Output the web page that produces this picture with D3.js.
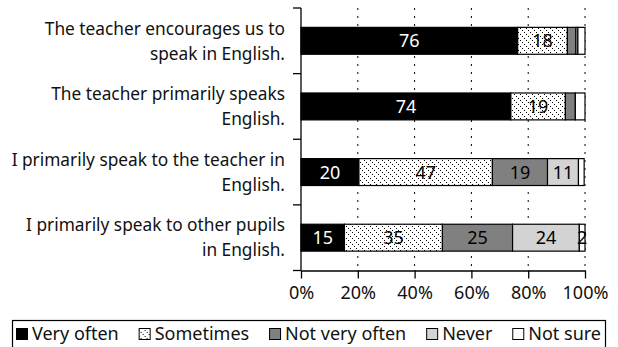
<!DOCTYPE html>
<html lang="en">
<head>
<meta charset="utf-8">
<title>Use of English in class</title>
<script src="https://cdn.jsdelivr.net/npm/d3@7"></script>
<style>
  body { margin: 0; background: #fff; }
  svg { display: block; font-family: "Noto Sans", Lato, sans-serif; }
</style>
</head>
<body>
<div id="chart"></div>
<script>
// data (percent of pupils)
var categories = [
  ["The teacher encourages us to", "speak in English."],
  ["The teacher primarily speaks", "English."],
  ["I primarily speak to the teacher in", "English."],
  ["I primarily speak to other pupils", "in English."]
];
var seriesNames = ["Very often", "Sometimes", "Not very often", "Never", "Not sure"];
var veryOften    = [76.3, 73.9, 20.4, 15.3];
var sometimes    = [17.5, 19.2, 47.0, 34.5];
var notVeryOften = [3.0, 3.5, 19.4, 24.7];
var never        = [0.7, 0, 10.9, 23.5];
var notSure      = [2.5, 3.4, 2.0, 2.0];
// which value labels are printed in each row
var shownLabels = [[0, 1], [0, 1], [0, 1, 2, 3], [0, 1, 2, 3, 4]];
var xTicks = [0, 20, 40, 60, 80, 100];

var width = 618, height = 347;
var pLeft = 301, pRight = 585, pTop = 8, pBottom = 270.5;

var svg = d3.select("#chart").append("svg")
    .attr("width", width)
    .attr("height", height);

// dotted diagonal hatch for "Sometimes"
var pat = svg.append("defs").append("pattern")
    .attr("id", "hatch")
    .attr("patternUnits", "userSpaceOnUse")
    .attr("width", 6).attr("height", 6);
pat.append("rect").attr("width", 6).attr("height", 6).attr("fill", "#fff");
[0, 2, 4].forEach(function(k) {
  pat.append("rect").attr("x", k).attr("y", k).attr("width", 1).attr("height", 1).attr("fill", "#000");
});

var fills = ["#000", "url(#hatch)", "#808080", "#d3d3d3", "#fff"];

var x = d3.scaleLinear().domain([0, 100]).range([pLeft, pRight]);
var y = d3.scaleBand().domain(d3.range(categories.length))
    .range([pTop, pBottom]).paddingInner(0.59).paddingOuter(0.295);

// dotted gridlines
svg.append("g").selectAll("line")
  .data(xTicks.slice(1))
  .join("line")
    .attr("x1", function(d) { return x(d); })
    .attr("x2", function(d) { return x(d); })
    .attr("y1", pTop).attr("y2", pBottom)
    .attr("stroke", "#000")
    .attr("stroke-width", 1)
    .attr("stroke-dasharray", "2,6");

// stacked rows
var rows = categories.map(function(c, i) {
  var vals = [veryOften[i], sometimes[i], notVeryOften[i], never[i], notSure[i]];
  var acc = 0;
  return vals.map(function(v, j) {
    var seg = {row: i, series: j, value: v, x0: acc, x1: acc + v};
    acc += v;
    return seg;
  });
});

var segs = svg.append("g").selectAll("g")
  .data(rows)
  .join("g");

segs.selectAll("rect")
  .data(function(d) { return d.filter(function(s) { return s.value > 0; }); })
  .join("rect")
    .attr("x", function(d) { return x(d.x0); })
    .attr("y", function(d) { return y(d.row); })
    .attr("width", function(d) { return x(d.x1) - x(d.x0); })
    .attr("height", y.bandwidth())
    .attr("fill", function(d) { return fills[d.series]; })
    .attr("stroke", "#000")
    .attr("stroke-width", 1.2);

segs.selectAll("text")
  .data(function(d, i) { return d.filter(function(s) { return shownLabels[i].indexOf(s.series) >= 0; }); })
  .join("text")
    .attr("x", function(d) { return (x(d.x0) + x(d.x1)) / 2; })
    .attr("y", function(d) { return y(d.row) + y.bandwidth() / 2; })
    .attr("dy", "0.36em")
    .attr("text-anchor", "middle")
    .attr("font-size", 18)
    .attr("fill", function(d) { return d.series === 0 ? "#fff" : "#000"; })
    .text(function(d) { return d3.format(".0f")(d.value); });

// y axis with ticks between the categories
var yAxis = svg.append("g");
yAxis.append("line")
    .attr("x1", pLeft).attr("x2", pLeft)
    .attr("y1", pTop).attr("y2", pBottom)
    .attr("stroke", "#000").attr("stroke-width", 1.3);
var bounds = d3.range(categories.length + 1).map(function(i) { return pTop + i * y.step(); });
yAxis.selectAll("line.tick")
  .data(bounds)
  .join("line")
    .attr("class", "tick")
    .attr("x1", pLeft - 8).attr("x2", pLeft)
    .attr("y1", function(d) { return d; })
    .attr("y2", function(d) { return d; })
    .attr("stroke", "#000").attr("stroke-width", 1.3);

yAxis.selectAll("text")
  .data(categories)
  .join("text")
    .attr("text-anchor", "end")
    .attr("font-size", 17.3)
    .attr("fill", "#111")
    .attr("transform", function(d, i) { return "translate(" + (pLeft - 16) + "," + (y(i) + y.bandwidth() / 2) + ")"; })
  .selectAll("tspan")
  .data(function(d) { return d; })
  .join("tspan")
    .attr("x", 0)
    .attr("y", function(d, k, all) { return (k - (all.length - 1) / 2) * 25; })
    .attr("dy", "0.36em")
    .text(function(d) { return d; });

// x axis
var xAxis = svg.append("g")
    .attr("transform", "translate(0," + pBottom + ")")
    .call(d3.axisBottom(x).tickValues(xTicks)
      .tickFormat(function(d) { return d + "%"; })
      .tickSize(8).tickSizeOuter(0));
xAxis.select(".domain").attr("stroke-width", 1.3);
xAxis.selectAll(".tick line").attr("stroke-width", 1.3);
xAxis.selectAll(".tick text")
    .attr("font-family", "'Noto Sans', Lato, sans-serif")
    .attr("font-size", 18)
    .attr("fill", "#111")
    .attr("dy", "0.95em");

// legend spread across its box
var boxX = 12.5, boxW = 593;
var legend = svg.append("g");
legend.append("rect")
    .attr("x", boxX).attr("y", 320.5)
    .attr("width", boxW).attr("height", 40)
    .attr("fill", "#fff").attr("stroke", "#000").attr("stroke-width", 1.2);
var items = seriesNames.map(function(name, j) {
  var g = legend.append("g");
  g.append("rect")
      .attr("x", 0.5).attr("y", 328.5)
      .attr("width", 11).attr("height", 11)
      .attr("fill", fills[j]).attr("stroke", "#000").attr("stroke-width", 1);
  var t = g.append("text")
      .attr("x", 16).attr("y", 334)
      .attr("dy", "0.36em")
      .attr("font-size", 18)
      .attr("fill", "#111")
      .text(name);
  return {g: g, w: 16 + t.node().getComputedTextLength()};
});
var inner = boxW - 8;
var gap = (inner - d3.sum(items, function(d) { return d.w; })) / (items.length - 1);
var lx = boxX + 3.5;
items.forEach(function(it) {
  it.g.attr("transform", "translate(" + lx + ",0)");
  lx += it.w + gap;
});
</script>
</body>
</html>
